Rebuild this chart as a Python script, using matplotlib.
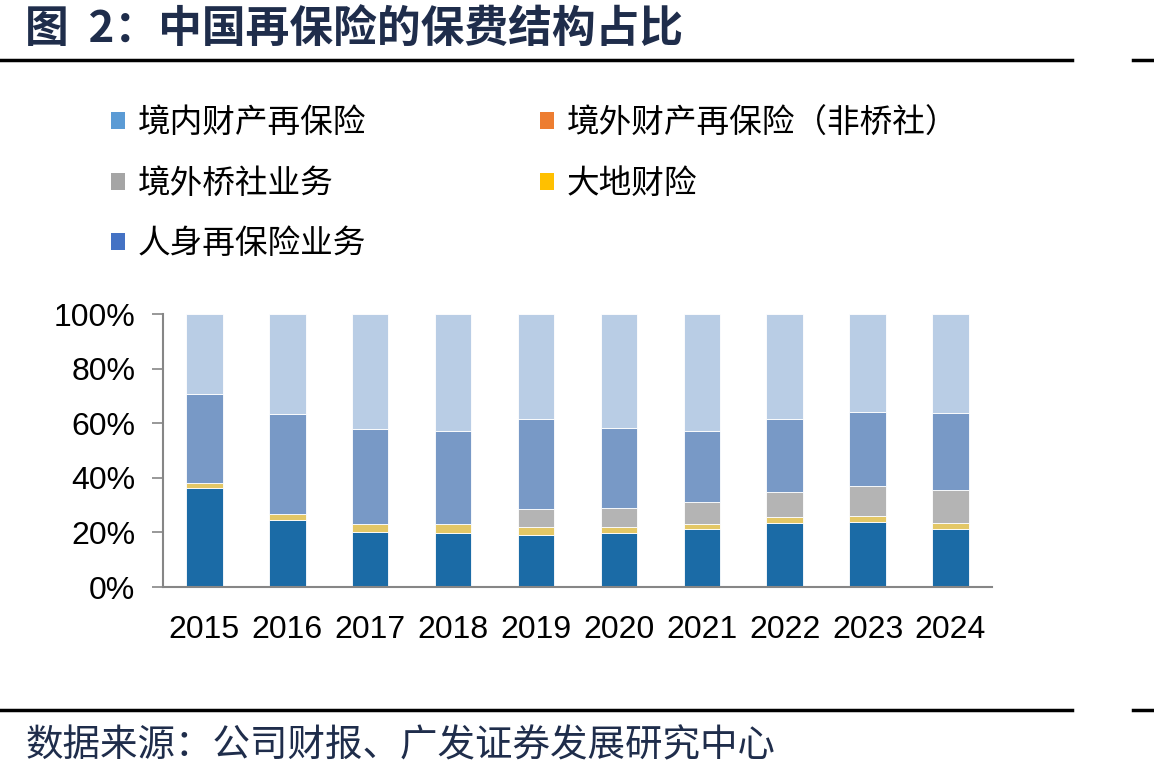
import matplotlib
matplotlib.use("Agg")
import matplotlib.pyplot as plt
from matplotlib.lines import Line2D
from matplotlib.patches import Patch
import numpy as np

years = ["2015", "2016", "2017", "2018", "2019", "2020", "2021", "2022", "2023", "2024"]

# shares in %, stacked bottom -> top
life_re = [36.3, 24.5, 20.0, 19.7, 19.0, 19.9, 21.1, 23.6, 23.9, 21.1]
dadi = [1.9, 2.1, 3.0, 3.3, 3.1, 2.2, 1.9, 2.2, 2.2, 2.2]
lloyds = [0.0, 0.0, 0.0, 0.0, 6.4, 6.7, 8.3, 8.9, 10.9, 12.2]
overseas_pc = [32.4, 36.7, 34.8, 34.1, 33.0, 29.6, 25.8, 26.7, 27.1, 28.1]
domestic_pc = [29.4, 36.7, 42.2, 42.9, 38.5, 41.6, 42.9, 38.6, 35.9, 36.4]

series = [life_re, dadi, lloyds, overseas_pc, domestic_pc]
bar_colors = ["#1B6BA6", "#E3C766", "#B4B4B4", "#7899C6", "#B9CDE5"]

legend_labels = ["境内财产再保险", "境外财产再保险（非桥社）", "境外桥社业务", "大地财险", "人身再保险业务"]
legend_colors = ["#5B9BD5", "#ED7D31", "#A5A5A5", "#FFC000", "#4472C4"]

CJK = ["Noto Sans CJK SC", "DejaVu Sans"]
NUM = "Liberation Sans"

fig = plt.figure(figsize=(11.54, 7.80), dpi=100)
ax = fig.add_axes([0.1412, 0.2474, 0.7184, 0.35])

x = np.arange(len(years))
bottom = np.zeros(len(years))
for vals, c in zip(series, bar_colors):
    vals = np.array(vals)
    ax.bar(x, vals, 0.44, bottom=bottom, color=c, edgecolor="#ffffff", linewidth=0.6)
    bottom += vals

ax.set_xlim(-0.5, len(years) - 0.5)
ax.set_ylim(0, 100)
ax.set_yticks(np.arange(0, 101, 20))
ax.set_yticklabels([f"{v}%" for v in range(0, 101, 20)], fontfamily=NUM, fontsize=23)
ax.set_xticks(x)
ax.set_xticklabels(years, fontfamily=NUM, fontsize=23)
ax.tick_params(axis="y", direction="out", length=8, width=1.2, color="#868686", pad=12)
ax.tick_params(axis="x", length=0, pad=20)
for s in ["top", "right"]:
    ax.spines[s].set_visible(False)
for s in ["left", "bottom"]:
    ax.spines[s].set_color("#868686")
    ax.spines[s].set_linewidth(1.5)

# legend: column-wise fill gives rows (境内, 境外非桥社), (桥社, 大地), (人身)
order = [0, 2, 4, 1, 3]
handles = [Patch(facecolor=legend_colors[i], edgecolor="none") for i in order]
labels = [legend_labels[i] for i in order]
fig.legend(handles, labels, loc="upper left", bbox_to_anchor=(0.071, 0.9), ncol=2,
           frameon=False, prop={"family": CJK, "size": 23.5}, handlelength=0.42,
           handleheight=0.42, handletextpad=0.38, labelspacing=0.87, columnspacing=5.35)

# title, rules and source
fig.text(0.022, 0.963, "图  2：中国再保险的保费结构占比", fontfamily=CJK, fontsize=31.5,
         fontweight="bold", color="#1F2D4B", va="center", ha="left")
for yy in (0.923, 0.0897):
    fig.add_artist(Line2D([0, 0.929], [yy, yy], color="black", lw=2.5, transform=fig.transFigure))
    fig.add_artist(Line2D([0.982, 1.0], [yy, yy], color="black", lw=2.5, transform=fig.transFigure))
fig.text(0.022, 0.044, "数据来源：公司财报、广发证券发展研究中心", fontfamily=CJK, fontsize=27,
         color="#1F2D4B", va="center", ha="left")

fig.savefig("out.png", dpi=100)
